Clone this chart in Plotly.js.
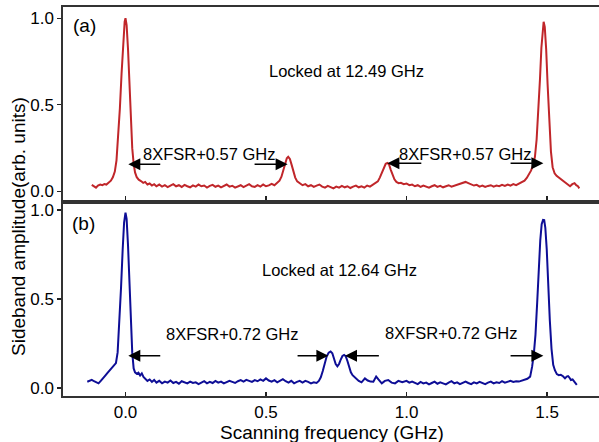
<!DOCTYPE html>
<html>
<head>
<meta charset="utf-8">
<script src="https://cdn.plot.ly/plotly-3.0.1.min.js"></script>
<style>html,body{margin:0;padding:0;background:#fff;}#chart{width:599px;height:442px;}</style>
</head>
<body>
<div id="chart"></div>
<script>
// Panel (a): locked at 12.49 GHz
const freqA = [-0.120,-0.112,-0.105,-0.098,-0.090,-0.082,-0.075,-0.068,-0.060,-0.052,-0.045,-0.038,-0.032,-0.026,-0.020,-0.014,-0.008,-0.003,
0.000,0.004,0.009,0.014,0.019,0.024,0.029,0.034,0.040,0.047,0.055,0.063,0.070,0.078,0.086,0.094,0.102,0.110,
0.120,0.130,0.140,0.150,0.160,0.170,0.180,0.190,0.200,0.210,0.220,0.230,0.240,0.250,0.260,0.270,0.280,0.290,0.300,0.310,0.320,0.330,0.340,0.350,0.360,0.370,0.380,0.390,0.400,0.410,0.420,0.430,0.440,0.450,0.460,0.470,0.480,0.490,0.500,0.510,0.520,0.530,0.540,
0.548,0.555,0.562,0.568,0.574,0.579,0.585,0.591,0.597,0.604,0.611,0.620,
0.630,0.640,0.650,0.660,0.670,0.680,0.690,0.700,0.710,0.720,0.730,0.740,0.750,0.760,0.770,0.780,0.790,0.800,0.810,0.820,0.830,0.840,0.850,0.860,0.870,0.880,0.890,
0.898,0.905,0.912,0.919,0.926,0.932,0.938,0.944,0.950,0.957,0.964,0.972,0.980,
0.990,1.000,1.010,1.020,1.030,1.040,1.050,1.060,1.070,1.080,1.090,1.100,1.110,1.120,1.130,1.140,1.150,1.160,1.170,1.180,1.190,1.200,1.210,1.220,1.230,1.240,1.250,1.260,1.270,1.280,1.290,1.300,1.310,1.320,1.330,1.340,1.350,1.360,1.370,1.380,1.390,1.400,1.410,1.420,
1.428,1.436,1.443,1.450,1.457,1.463,1.469,1.475,1.480,1.485,1.488,1.492,1.497,1.502,1.508,1.514,1.520,1.527,1.534,1.542,1.550,1.558,1.566,1.574,1.582,1.590,1.598,1.604,1.610,1.615];
const ampA = [0.038,0.028,0.022,0.034,0.040,0.036,0.043,0.040,0.050,0.062,0.082,0.115,0.180,0.320,0.480,0.680,0.880,0.980,
1.000,0.960,0.820,0.610,0.400,0.250,0.160,0.110,0.082,0.068,0.060,0.050,0.055,0.040,0.046,0.034,0.042,0.030,
0.040,0.028,0.036,0.025,0.034,0.042,0.030,0.036,0.026,0.038,0.030,0.024,0.035,0.028,0.040,0.030,0.034,0.022,0.032,0.038,0.027,0.034,0.024,0.030,0.040,0.028,0.033,0.022,0.030,0.036,0.025,0.032,0.042,0.030,0.026,0.036,0.028,0.040,0.030,0.035,0.044,0.036,0.048,
0.062,0.085,0.125,0.165,0.192,0.200,0.188,0.155,0.115,0.080,0.058,0.045,
0.036,0.042,0.030,0.036,0.026,0.034,0.040,0.028,0.022,0.032,0.026,0.018,0.028,0.022,0.032,0.024,0.030,0.020,0.028,0.034,0.024,0.030,0.022,0.034,0.028,0.038,0.045,
0.058,0.080,0.110,0.140,0.160,0.165,0.155,0.125,0.095,0.070,0.055,0.048,0.050,
0.042,0.046,0.036,0.040,0.030,0.036,0.026,0.034,0.028,0.022,0.030,0.036,0.026,0.032,0.024,0.030,0.036,0.028,0.034,0.040,0.046,0.052,0.055,0.048,0.040,0.034,0.038,0.028,0.034,0.026,0.032,0.036,0.028,0.034,0.030,0.038,0.032,0.040,0.034,0.042,0.036,0.044,0.050,0.062,
0.078,0.098,0.120,0.150,0.200,0.300,0.460,0.650,0.830,0.950,0.980,0.950,0.820,0.620,0.400,0.230,0.140,0.105,0.090,0.080,0.068,0.058,0.046,0.036,0.030,0.042,0.048,0.036,0.030,0.018];

// Panel (b): locked at 12.64 GHz
const freqB = [-0.136,-0.128,-0.120,-0.112,-0.104,-0.096,-0.088,-0.080,-0.072,-0.064,-0.056,-0.048,-0.040,-0.034,-0.028,-0.022,-0.016,-0.010,-0.005,
0.000,0.004,0.009,0.014,0.019,0.024,0.029,0.034,0.040,0.046,0.052,0.058,0.064,0.070,0.078,0.086,0.094,0.102,0.110,
0.120,0.130,0.140,0.150,0.160,0.170,0.180,0.190,0.200,0.210,0.220,0.230,0.240,0.250,0.260,0.270,0.280,0.290,0.300,0.310,0.320,0.330,0.340,0.350,0.360,0.370,0.380,0.390,0.400,0.410,0.420,0.430,0.440,0.450,0.460,0.470,0.480,0.490,0.500,0.510,0.520,0.530,0.540,0.550,0.560,0.570,0.580,0.590,0.600,0.610,0.620,0.630,0.640,0.650,0.660,0.670,0.680,
0.688,0.695,0.702,0.709,0.716,0.723,0.730,0.736,0.742,0.748,0.754,0.760,0.766,0.772,0.778,0.784,0.790,0.796,0.802,0.808,0.815,0.822,0.830,
0.840,0.852,0.862,0.872,0.882,0.892,0.900,0.912,0.923,0.935,0.947,0.959,0.971,0.985,1.000,1.010,1.020,1.030,1.040,1.050,1.060,1.070,1.080,1.090,1.100,1.110,1.120,1.130,1.140,1.150,1.160,1.170,1.180,1.190,1.200,1.210,1.220,1.230,1.240,1.250,1.260,1.270,1.280,1.290,1.300,1.310,1.320,1.330,1.340,1.350,1.360,1.370,1.380,1.390,1.400,1.410,1.420,1.430,
1.440,1.447,1.453,1.459,1.465,1.471,1.476,1.481,1.486,1.490,1.494,1.499,1.504,1.510,1.516,1.522,1.528,1.535,1.542,1.549,1.557,1.564,1.570,1.575,1.579,1.585,1.591,1.598,1.606];
const ampB = [0.035,0.040,0.046,0.038,0.030,0.026,0.040,0.058,0.070,0.085,0.100,0.115,0.128,0.140,0.200,0.360,0.560,0.780,0.930,
0.985,0.950,0.800,0.580,0.360,0.200,0.110,0.088,0.080,0.086,0.070,0.082,0.062,0.050,0.040,0.048,0.034,0.045,0.030,
0.040,0.026,0.036,0.030,0.042,0.028,0.034,0.024,0.038,0.030,0.026,0.036,0.028,0.032,0.022,0.030,0.038,0.026,0.034,0.028,0.040,0.030,0.036,0.026,0.032,0.040,0.034,0.028,0.038,0.044,0.036,0.046,0.040,0.034,0.044,0.038,0.048,0.040,0.054,0.042,0.036,0.044,0.032,0.040,0.050,0.038,0.030,0.040,0.026,0.034,0.040,0.030,0.040,0.034,0.026,0.032,0.028,
0.040,0.060,0.095,0.140,0.178,0.198,0.205,0.195,0.165,0.135,0.122,0.135,0.160,0.180,0.186,0.178,0.150,0.115,0.088,0.072,0.062,0.050,0.040,
0.032,0.054,0.042,0.036,0.035,0.064,0.048,0.026,0.040,0.045,0.030,0.026,0.040,0.032,0.040,0.030,0.036,0.028,0.022,0.034,0.026,0.030,0.020,0.028,0.036,0.024,0.032,0.026,0.020,0.030,0.038,0.026,0.032,0.022,0.030,0.036,0.028,0.022,0.032,0.026,0.034,0.028,0.022,0.030,0.036,0.026,0.032,0.028,0.038,0.030,0.034,0.040,0.034,0.038,0.036,0.042,0.046,0.052,
0.064,0.120,0.190,0.300,0.480,0.680,0.830,0.920,0.945,0.944,0.900,0.780,0.580,0.380,0.220,0.130,0.100,0.078,0.072,0.074,0.066,0.054,0.064,0.067,0.060,0.045,0.048,0.035,0.017];

const tickVals = [0, 0.5, 1.0, 1.5];
const tickText = ['0.0', '0.5', '1.0', '1.5'];
const yTickVals = [0, 0.5, 1.0];
const yTickText = ['0.0', '0.5', '1.0'];

const FONT = 'Arial, "Liberation Sans", sans-serif';

const traces = [
  {x: freqA, y: ampA, xaxis: 'x', yaxis: 'y', mode: 'lines', line: {color: 'rgb(192,38,42)', width: 2}, hoverinfo: 'skip'},
  {x: freqB, y: ampB, xaxis: 'x2', yaxis: 'y2', mode: 'lines', line: {color: 'rgb(14,14,150)', width: 2}, hoverinfo: 'skip'}
];

function arrow(xref, yref, hx, hy, tx, ty) {
  return {xref: xref, yref: yref, axref: xref, ayref: yref, x: hx, y: hy, ax: tx, ay: ty,
    text: '', showarrow: true, arrowhead: 2, arrowsize: 1.6, arrowwidth: 1.5, arrowcolor: '#000', standoff: 0, startstandoff: 0};
}
function label(xref, yref, x, y, text, size) {
  return {xref: xref, yref: yref, x: x, y: y, text: text, showarrow: false,
    xanchor: 'center', yanchor: 'middle', font: {family: FONT, size: size, color: '#000'}};
}

const axisCommon = {
  range: [-0.2224, 1.685], tickvals: tickVals, ticktext: tickText, ticks: 'inside', ticklen: 4, tickwidth: 1.2,
  tickcolor: '#222', showline: true, linecolor: '#333', linewidth: 1.6, mirror: true, showgrid: false, zeroline: false,
  tickfont: {family: FONT, size: 17, color: '#000'}
};
const yCommon = {
  tickvals: yTickVals, ticktext: yTickText, ticks: 'outside', ticklen: 4, tickwidth: 1.2, tickcolor: '#222',
  showline: true, linecolor: '#333', linewidth: 1.6, showgrid: false, zeroline: false,
  tickfont: {family: FONT, size: 17, color: '#000'}
};

const layout = {
  width: 599, height: 442,
  margin: {l: 63, r: 0, t: 7, b: 46},
  paper_bgcolor: '#fff', plot_bgcolor: '#fff',
  showlegend: false,
  xaxis: Object.assign({}, axisCommon, {domain: [0, 1], anchor: 'y', showticklabels: false}),
  yaxis: Object.assign({}, yCommon, {domain: [0.504, 1], range: [-0.049, 1.065], anchor: 'x'}),
  xaxis2: Object.assign({}, axisCommon, {domain: [0, 1], anchor: 'y2', showticklabels: true}),
  yaxis2: Object.assign({}, yCommon, {domain: [0, 0.4936], range: [-0.045, 1.034], anchor: 'x2'}),
  annotations: [
    label('x', 'y', -0.146, 0.961, '(a)', 19),
    label('x', 'y', 0.785, 0.696, 'Locked at 12.49 GHz', 16.5),
    label('x', 'y', 0.298, 0.2165, '8XFSR+0.57 GHz', 16.5),
    label('x', 'y', 1.210, 0.2165, '8XFSR+0.57 GHz', 16.5),
    arrow('x', 'y', 0.010, 0.157, 0.129, 0.157),
    arrow('x', 'y', 0.577, 0.157, 0.454, 0.157),
    arrow('x', 'y', 0.932, 0.163, 1.058, 0.163),
    arrow('x', 'y', 1.487, 0.163, 1.365, 0.163),
    label('x2', 'y2', -0.149, 0.927, '(b)', 19),
    label('x2', 'y2', 0.763, 0.663, 'Locked at 12.64 GHz', 16.5),
    label('x2', 'y2', 0.382, 0.303, '8XFSR+0.72 GHz', 16.5),
    label('x2', 'y2', 1.161, 0.311, '8XFSR+0.72 GHz', 16.5),
    arrow('x2', 'y2', 0.010, 0.181, 0.129, 0.181),
    arrow('x2', 'y2', 0.722, 0.181, 0.607, 0.181),
    arrow('x2', 'y2', 0.781, 0.181, 0.907, 0.181),
    arrow('x2', 'y2', 1.487, 0.181, 1.365, 0.181),
    {xref: 'paper', yref: 'paper', x: -0.084, y: 0.437, text: 'Sideband amplitude(arb. units)', textangle: -90,
     showarrow: false, xanchor: 'center', yanchor: 'middle', font: {family: FONT, size: 19, color: '#000'}},
    {xref: 'paper', yref: 'paper', x: 0.502, y: -0.095, text: 'Scanning frequency (GHz)',
     showarrow: false, xanchor: 'center', yanchor: 'middle', font: {family: FONT, size: 19, color: '#000'}}
  ]
};

Plotly.newPlot('chart', traces, layout, {staticPlot: true, displayModeBar: false});
</script>
</body>
</html>
